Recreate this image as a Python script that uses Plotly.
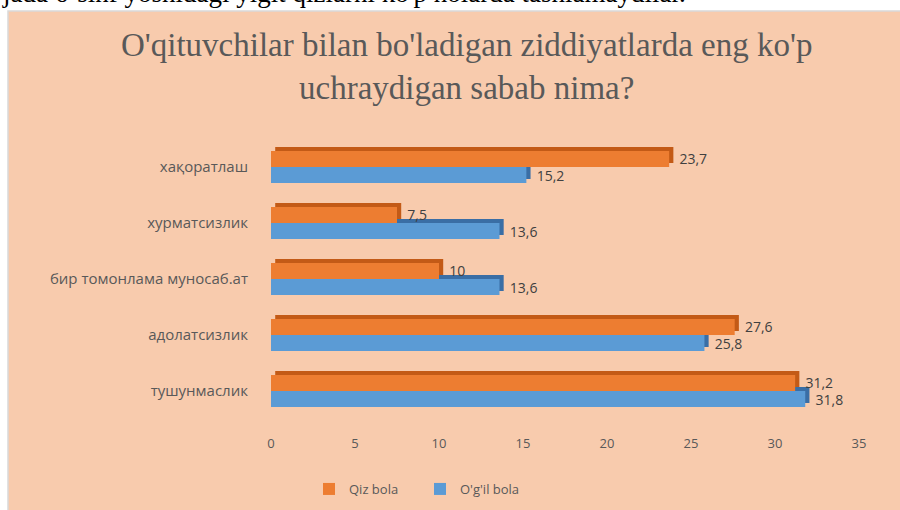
import plotly.graph_objects as go

# ---- data ----
categories = ["тушунмаслик", "адолатсизлик", "бир томонлама муносаб.ат", "хурматсизлик", "хақоратлаш"]
qiz_bola = [31.2, 27.6, 10, 7.5, 23.7]
ogil_bola = [31.8, 25.8, 13.6, 13.6, 15.2]
x_ticks = [0, 5, 10, 15, 20, 25, 30, 35]
series_names = ["Qiz bola", "O'g'il bola"]
title_text = "O'qituvchilar bilan bo'ladigan ziddiyatlarda eng ko'p<br>uchraydigan sabab nima?"
top_text = "jada 6-sinf yoshidagi yigit qizlarni ko'p holarda tashlamaydilar."

# ---- style ----
W, H = 900, 510
ML, MR, MT, MB = 271, 32, 128, 91
PW, PH = W - ML - MR, H - MT - MB
ORANGE, ORANGE_D = "#ED7D31", "#C35A16"
BLUE, BLUE_D = "#5B9BD5", "#3A6EA5"
PEACH = "#F8CBAD"
BAR_W = 0.286     # bar thickness in category units
DY = 0.07         # 3D depth (category units)
DX = 0.25         # 3D depth (data units)
idx = list(range(len(categories)))

def fmt(v):
    return "\u00a0\u00a0" + f"{v:g}".replace(".", ",")

fig = go.Figure()
# 3D depth faces (drawn first)
fig.add_trace(go.Bar(y=idx, x=qiz_bola, base=DX, orientation="h", offset=DY, width=BAR_W,
                     marker=dict(color=ORANGE_D, line=dict(width=0)), showlegend=False,
                     hoverinfo="skip", xaxis="x2", yaxis="y2"))
fig.add_trace(go.Bar(y=idx, x=ogil_bola, base=DX, orientation="h", offset=-BAR_W + DY, width=BAR_W,
                     marker=dict(color=BLUE_D, line=dict(width=0)), showlegend=False,
                     hoverinfo="skip", xaxis="x2", yaxis="y2"))
# front faces
fig.add_trace(go.Bar(y=idx, x=qiz_bola, orientation="h", offset=0, width=BAR_W, name=series_names[0],
                     marker=dict(color=ORANGE, line=dict(width=0)),
                     text=[fmt(v) for v in qiz_bola], textposition="outside", cliponaxis=False,
                     constraintext="none",
                     textfont=dict(color="#404040", size=14, family="Open Sans"),
                     xaxis="x2", yaxis="y2"))
fig.add_trace(go.Bar(y=idx, x=ogil_bola, orientation="h", offset=-BAR_W, width=BAR_W, name=series_names[1],
                     marker=dict(color=BLUE, line=dict(width=0)),
                     text=[fmt(v) for v in ogil_bola], textposition="outside", cliponaxis=False,
                     constraintext="none",
                     textfont=dict(color="#404040", size=14, family="Open Sans"),
                     xaxis="x2", yaxis="y2"))

def px_x(p):
    return (p - ML) / PW

def px_y(p):
    return (H - MB - p) / PH

fig.update_layout(
    width=W, height=H,
    margin=dict(l=ML, r=MR, t=MT, b=MB, pad=0, autoexpand=False),
    paper_bgcolor="white",
    plot_bgcolor="rgba(0,0,0,0)",
    barmode="overlay",
    separators=", ",
    font=dict(family="Open Sans", color="#595959", size=13),
    # back-wall gridlines (shifted, 3D look)
    xaxis=dict(domain=[9 / PW, 1], range=[0, 35], tickvals=x_ticks, showgrid=True,
               gridcolor="#D4D4D4", gridwidth=1.2, showticklabels=False, zeroline=False,
               showline=False, ticks="", anchor="y", fixedrange=True),
    yaxis=dict(domain=[px_y(410), 1], range=[0, 1], showgrid=False, showticklabels=False,
               zeroline=False, showline=False, ticks="", anchor="x", fixedrange=True),
    # bars axes
    xaxis2=dict(domain=[0, 588 / PW], range=[0, 35], tickvals=x_ticks, showgrid=False,
                zeroline=False, showline=False, ticks="", anchor="y2",
                tickfont=dict(size=13, color="#595959"), ticklabelstandoff=15),
    yaxis2=dict(domain=[0, px_y(139)], range=[-0.5, len(categories) - 0.5], tickvals=idx,
                ticktext=categories, showgrid=False, zeroline=False, showline=False, ticks="",
                anchor="x2", tickfont=dict(size=15, color="#595959"), ticklabelstandoff=22),
    legend=dict(orientation="h", x=px_x(420), xanchor="center", y=px_y(489), yanchor="middle",
                font=dict(size=13, color="#595959"), bgcolor="rgba(0,0,0,0)", traceorder="normal",
                itemwidth=30, entrywidth=66, entrywidthmode="pixels"),
    showlegend=True,
)

# chart area background and border
fig.add_shape(type="rect", xref="paper", yref="paper",
              x0=px_x(8), x1=px_x(905), y0=px_y(515), y1=px_y(11),
              fillcolor=PEACH, line=dict(color="#D9D9D9", width=1.5), layer="below")
# title
fig.add_annotation(text=title_text, xref="paper", yref="paper", x=px_x(466), y=px_y(66),
                   xanchor="center", yanchor="middle", showarrow=False, align="center",
                   font=dict(family="Liberation Serif", size=33, color="#595959"))
# cut-off text line at the very top
fig.add_annotation(text=top_text, xref="paper", yref="paper", x=px_x(0), y=px_y(-7),
                   xanchor="left", yanchor="middle", showarrow=False,
                   font=dict(family="Liberation Serif", size=27, color="black"))

fig.write_html("out.html", config={"displayModeBar": False},
               post_script="document.body.style.margin='0';document.body.style.padding='0';")
